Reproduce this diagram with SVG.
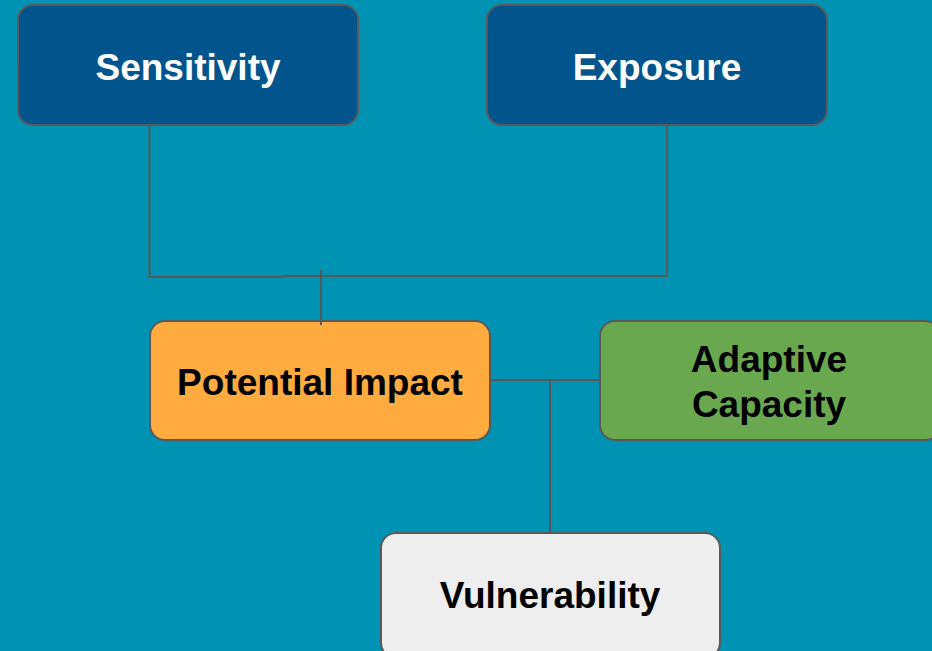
<svg xmlns="http://www.w3.org/2000/svg" width="932" height="651" viewBox="0 0 932 651">
  <style>
    .box { stroke: #595959; stroke-width: 2; }
    .dark { fill: #01548c; }
    .orange { fill: #ffab40; }
    .green { fill: #6aa84f; }
    .light { fill: #eeeeee; }
    .label { font-family: "Liberation Sans", Arial, sans-serif; font-weight: bold; font-size: 37px; text-anchor: middle; }
    .white { fill: #ffffff; }
    .black { fill: #000000; }
    .conn { stroke: #595959; stroke-width: 2; fill: none; }
  </style>
  <rect width="932" height="651" fill="#0092b3"/>

  <g id="sensitivity">
    <rect class="box dark" x="18" y="5" width="340" height="120" rx="15"/>
    <text class="label white" x="188" y="80">Sensitivity</text>
  </g>

  <g id="exposure">
    <rect class="box dark" x="487" y="5" width="340" height="120" rx="15"/>
    <text class="label white" x="657" y="80">Exposure</text>
  </g>

  <g id="potential-impact">
    <rect class="box orange" x="150" y="321" width="340" height="119" rx="15"/>
    <text class="label black" x="320" y="395">Potential Impact</text>
  </g>

  <g id="adaptive-capacity">
    <rect class="box green" x="600" y="321" width="340" height="119" rx="15"/>
    <text class="label black" x="769" y="372">Adaptive</text>
    <text class="label black" x="769" y="417">Capacity</text>
  </g>

  <g id="vulnerability">
    <rect class="box light" x="381" y="533" width="339" height="125" rx="15"/>
    <text class="label black" x="550" y="608">Vulnerability</text>
  </g>

  <g id="connectors">
    <polyline class="conn" points="149.5,126 149.5,277 283,277"/>
    <polyline class="conn" points="283,276 667,276 667,126"/>
    <line class="conn" x1="321" y1="270" x2="321" y2="325" stroke-width="3"/>
    <line class="conn" x1="491" y1="380" x2="599" y2="380"/>
    <line class="conn" x1="550" y1="380" x2="550" y2="532"/>
  </g>
</svg>
